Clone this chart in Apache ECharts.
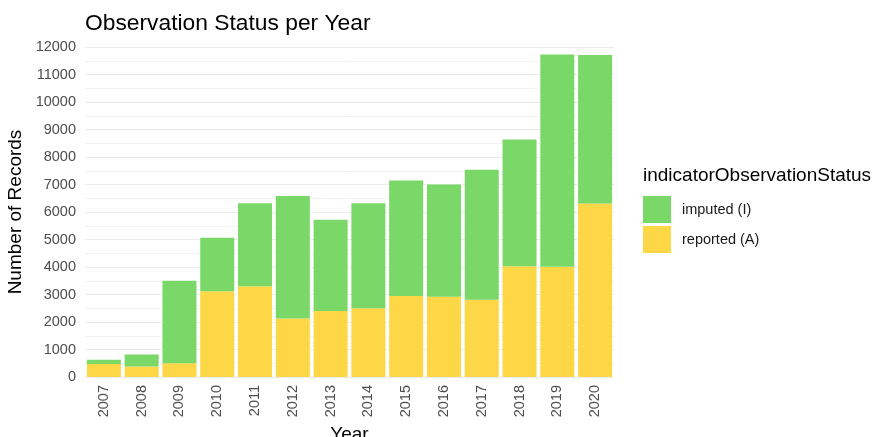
<!DOCTYPE html>
<html>
<head>
<meta charset="utf-8">
<script src="https://cdn.jsdelivr.net/npm/echarts@6/dist/echarts.min.js"></script>
<style>
	html, body { margin: 0; padding: 0; background: #fff; }
	#chart { width: 874px; height: 437px; }
</style>
</head>
<body>
<div id="chart"></div>
<script>
var years = ["2007", "2008", "2009", "2010", "2011", "2012", "2013", "2014", "2015", "2016", "2017", "2018", "2019", "2020"];
var reported = [470, 380, 500, 3120, 3300, 2130, 2400, 2500, 2950, 2920, 2810, 4030, 4010, 6310];
var imputed = [160, 440, 3000, 1940, 3020, 4450, 3320, 3820, 4200, 4080, 4730, 4610, 7720, 5400];

const fontFamily = "Liberation Sans, Arial, sans-serif";

var myChart = echarts.init(document.getElementById("chart"));
var option = {
	animation: false,
	title: {
		text: 'Observation Status per Year',
		left: 80,
		top: 7,
		textStyle: { fontFamily: fontFamily, fontSize: 22.8, fontWeight: 'normal', color: '#000' },
	},
	legend: {
		orient: 'vertical',
		left: 638,
		top: 191,
		icon: 'rect',
		itemWidth: 28,
		itemHeight: 27,
		itemGap: 3,
		data: ['imputed (I)', 'reported (A)'],
		textStyle: { fontFamily: fontFamily, fontSize: 14.5, color: '#1a1a1a', padding: [0, 0, 0, 6] },
	},
	graphic: [
		{
			type: 'text',
			left: 643,
			top: 166,
			style: { text: 'indicatorObservationStatus', font: '19px ' + fontFamily, fill: '#000' },
		}
	],
	grid: { left: 85, right: 260, top: 47, bottom: 60, outerBoundsMode: 'none' },
	xAxis: {
		type: 'category',
		data: years,
		name: 'Year',
		nameLocation: 'middle',
		nameGap: 45,
		nameTextStyle: { fontFamily: fontFamily, fontSize: 19, color: '#000' },
		axisLine: { show: false },
		axisTick: { show: false },
		axisLabel: { rotate: 90, margin: 8, fontFamily: fontFamily, fontSize: 14.5, color: '#4d4d4d' },
	},
	yAxis: {
		type: 'value',
		min: 0,
		max: 12000,
		interval: 1000,
		name: 'Number of Records',
		nameLocation: 'middle',
		nameGap: 57,
		nameTextStyle: { fontFamily: fontFamily, fontSize: 19, color: '#000' },
		axisLabel: {
			margin: 9,
			fontFamily: fontFamily,
			fontSize: 14.5,
			color: '#4d4d4d',
			formatter: function (v) { return String(v); },
		},
		splitLine: { lineStyle: { color: '#ebebeb', width: 1.2 } },
		minorTick: { show: false, splitNumber: 2 },
		minorSplitLine: { show: true, lineStyle: { color: '#f3f3f3', width: 1 } },
	},
	series: [
		{
			name: 'reported (A)',
			type: 'bar',
			stack: 'total',
			data: reported,
			barCategoryGap: '10%',
			itemStyle: { color: '#fdd745' },
		},
		{
			name: 'imputed (I)',
			type: 'bar',
			stack: 'total',
			data: imputed,
			barCategoryGap: '10%',
			itemStyle: { color: '#79d868' },
		}
	]
};
option && myChart.setOption(option);
</script>
</body>
</html>
